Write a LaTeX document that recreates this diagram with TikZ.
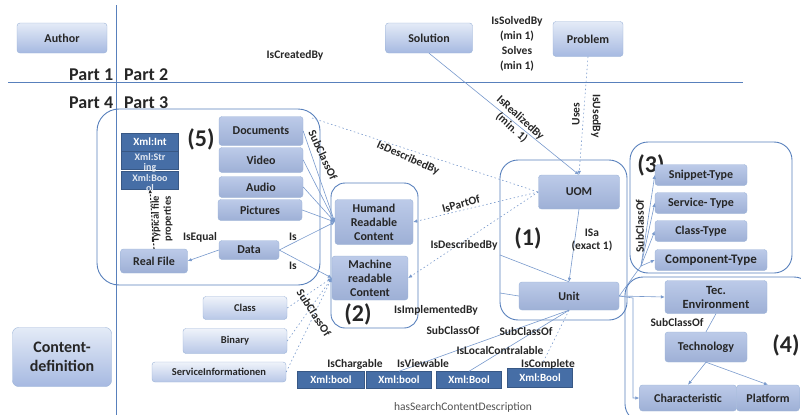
\documentclass[tikz,border=0pt]{standalone}
\usepackage{fontspec}
\setmainfont{Carlito}
\usetikzlibrary{arrows.meta}
\definecolor{edgeblue}{RGB}{120,153,204}
\definecolor{frameblue}{RGB}{88,128,188}
\definecolor{boxtop}{RGB}{228,235,247}
\definecolor{boxbot}{RGB}{166,185,225}
\definecolor{xmlblue}{RGB}{70,110,166}
\definecolor{inktext}{RGB}{38,38,38}

\begin{document}
\begin{tikzpicture}[x=1pt, y=-1pt, >={Latex[length=4pt,width=3.5pt]},
  box/.style={rounded corners=3pt, draw=frameblue!60, top color=boxtop, bottom color=boxbot, align=center, inner sep=1pt, text=inktext, font=\fontsize{12}{13}\selectfont\bfseries},
  darkbox/.style={box, top color=boxbot!75, bottom color=boxbot!95!black},
  lightbox/.style={box, top color=boxtop!60, bottom color=boxbot!80, font=\fontsize{10.5}{11}\selectfont\bfseries},
  xmlbox/.style={draw=xmlblue!80!black, fill=xmlblue, text=white, inner sep=0pt, font=\fontsize{11}{11}\selectfont\bfseries},
  xmltext/.style={font=\fontsize{10}{10}\selectfont\bfseries, text=white!85!xmlblue, align=center, inner sep=0pt},
  frame/.style={draw=frameblue, line width=0.9pt},
  edge/.style={draw=edgeblue, line width=0.6pt},
  dotedge/.style={edge, dash pattern=on 1.5pt off 2.5pt},
  lbl/.style={font=\fontsize{11.5}{12}\selectfont\bfseries, text=inktext, inner sep=0pt, align=center},
  part/.style={font=\fontsize{18}{18}\selectfont\bfseries, text=inktext, inner sep=0pt},
  num/.style={font=\fontsize{24}{24}\selectfont\bfseries, text=inktext, inner sep=0pt}]
\useasboundingbox (0,0) rectangle (801,415);
% axes of the four parts
\draw[frame, line width=1pt] (116,5) -- (116,415);
\draw[frame, line width=1pt] (8,82) -- (743,82);
\node[part, anchor=base west] (p1) at (69,80) {Part 1};
\node[part, anchor=base west] (p2) at (124,80) {Part 2};
\node[part, anchor=base west] (p4) at (69,108) {Part 4};
\node[part, anchor=base west] (p3) at (124,108) {Part 3};
% containers
\draw[frame, rounded corners=22pt] (97,109) rectangle (320,285);
\draw[frame, rounded corners=14pt] (331,183) rectangle (418,328);
\draw[frame, rounded corners=18pt] (500,160) rectangle (627,320);
\draw[frame, rounded corners=18pt] (630,142) rectangle (792,273);
\draw[frame, rounded corners=18pt] (625,277) rectangle (812,422);
\node[num] (n5) at (201,139) {(5)};
\node[num] (n2) at (358,314) {(2)};
\node[num] (n1) at (528,238) {(1)};
\node[num] (n3) at (651,165) {(3)};
\node[num] (n4) at (786,345) {(4)};
% part 1 and 2
\node[box, minimum width=90pt, minimum height=30pt] (author) at (62,38) {Author};
\node[box, minimum width=87pt, minimum height=30pt] (solution) at (429,38) {Solution};
\node[box, minimum width=70pt, minimum height=35pt] (problem) at (588,39) {Problem};
\node[box, minimum width=99pt, minimum height=59pt, rounded corners=6pt, font=\fontsize{16}{19}\selectfont\bfseries] (contentdef) at (62,357) {Content-\\definition};
% part 3: box (5)
\node[darkbox, minimum width=84pt, minimum height=29pt] (docs) at (261,131) {Documents};
\node[darkbox, minimum width=84pt, minimum height=25pt] (video) at (261,160) {Video};
\node[darkbox, minimum width=84pt, minimum height=21pt] (audio) at (261,187) {Audio};
\node[darkbox, minimum width=84pt, minimum height=21pt] (pictures) at (260,210) {Pictures};
\node[darkbox, minimum width=60pt, minimum height=19pt] (data) at (249,250) {Data};
\node[darkbox, minimum width=67pt, minimum height=24pt] (realfile) at (154,261) {Real File};
\node[xmlbox, minimum width=57pt, minimum height=18pt] (xmlint) at (150,142) {Xml:Int};
\node[xmlbox, minimum width=57pt, minimum height=18pt] (xmlstr) at (150,160) {};
\node[xmlbox, minimum width=57pt, minimum height=18pt] (xmlboo) at (150,180) {};
\node[xmltext] (xmlstrt) at (150,163) {Xml:Str\\ing};
\node[xmltext] (xmlboot) at (150,183) {Xml:Boo\\ol};
% box (2)
\node[darkbox, minimum width=78pt, minimum height=45pt, font=\fontsize{12}{14}\selectfont\bfseries] (human) at (374,222) {Humand\\Readable\\Content};
\node[darkbox, minimum width=76pt, minimum height=44pt, font=\fontsize{12}{14}\selectfont\bfseries] (machine) at (370,278) {Machine\\readable\\Content};
% box (1)
\node[darkbox, minimum width=81pt, minimum height=34pt] (uom) at (579,192) {UOM};
\node[darkbox, minimum width=100pt, minimum height=28pt] (unit) at (569,296) {Unit};
% box (3)
\node[darkbox, minimum width=92pt, minimum height=21pt] (snippet) at (701,175) {Snippet-Type};
\node[darkbox, minimum width=92pt, minimum height=21pt] (service) at (701,203) {Service- Type};
\node[darkbox, minimum width=92pt, minimum height=21pt] (classtype) at (701,231) {Class-Type};
\node[darkbox, minimum width=112pt, minimum height=21pt, font=\fontsize{13}{13}\selectfont\bfseries] (component) at (711,260) {Component-Type};
% box (4)
\node[darkbox, minimum width=102pt, minimum height=33pt, font=\fontsize{12.5}{14}\selectfont\bfseries] (tecenv) at (716,297) {Tec.\\Environment};
\node[darkbox, minimum width=82pt, minimum height=30pt] (technology) at (706,347) {Technology};
\node[darkbox, minimum width=97pt, minimum height=26pt] (characteristic) at (688,398) {Characteristic};
\node[darkbox, minimum width=63pt, minimum height=26pt] (platform) at (768,398) {Platform};
% part 3: machine readable kinds
\node[lightbox, minimum width=84pt, minimum height=23pt] (classn) at (245,308) {Class};
\node[lightbox, minimum width=104pt, minimum height=25pt] (binary) at (235,341) {Binary};
\node[lightbox, minimum width=134pt, minimum height=20pt] (servinfo) at (219,372) {ServiceInformationen};
% boolean properties
\node[xmlbox, minimum width=67pt, minimum height=17pt] (xb1) at (331,380) {Xml:bool};
\node[xmlbox, minimum width=65pt, minimum height=17pt] (xb2) at (399,380) {Xml:bool};
\node[xmlbox, minimum width=65pt, minimum height=17pt] (xb3) at (469,380) {Xml:Bool};
\node[xmlbox, minimum width=65pt, minimum height=19pt] (xb4) at (540,378) {Xml:Bool};
% helper points on the frames
\coordinate (f5top) at (312,118);
\coordinate (f1left) at (500,255);
\coordinate (f1low) at (500,293);
\coordinate (fan3) at (641,266);
\coordinate (bend4) at (633,298);
\coordinate (low4) at (633,398);
% connectors
\draw[edge, ->] (docs.east) -- (human.west);
\draw[edge, ->] (video.east) -- (human.west);
\draw[edge, ->] (audio.east) -- (human.west);
\draw[edge, ->] (pictures.east) -- (human.west);
\draw[edge, ->] (data.east) -- (human.west);
\draw[edge, ->] (data.east) -- (machine.west);
\draw[edge, ->] (data.west) -- (realfile.east);
\draw[->, draw=inktext, line width=1.1pt, dash pattern=on 2pt off 1.5pt] (realfile.north) -- (xmlboo.south);
\draw[dotedge, ->] (classn.east) -- (machine.west);
\draw[dotedge, ->] (binary.east) -- (machine.west);
\draw[dotedge, ->] (servinfo.east) -- (machine.west);
\draw[dotedge] (f5top) -- (uom.west);
\draw[dotedge, ->] (uom.west) -- (human.east);
\draw[dotedge, ->] (uom.west) -- (machine.east);
\draw[edge, ->] (solution.south) -- (uom.north);
\draw[dotedge, ->] (problem.south) -- (uom.north);
\draw[edge, ->] (uom.south) -- (unit.north);
\draw[edge] (f1left) -- (unit.north);
\draw[edge] (f1low) -- (unit.west);
\draw[edge, ->] (unit.east) -- (tecenv.west);
\draw[edge] (unit.east) -- (fan3);
\foreach \t in {snippet,service,classtype,component}{ \draw[edge, ->] (fan3) -- (\t.west); }
\draw[edge, ->] (unit.east) -- (bend4) -- (low4) -- (characteristic.west);
\draw[edge] (technology.north) -- (tecenv.south);
\draw[edge, ->] (technology.south) -- (characteristic.north);
\draw[edge, ->] (technology.south) -- (platform.north);
\draw[edge] (unit.south) -- (xb2.north);
\draw[edge] (unit.south) -- (xb3.north);
\draw[dotedge] (unit.south) -- (xb4.north);
% labels
\node[lbl] (lcreated) at (295,55) {IsCreatedBy};
\node[lbl, font=\fontsize{11.5}{15}\selectfont\bfseries] (lsolved) at (517,44) {IsSolvedBy\\(min 1)\\Solves\\(min 1)};
\node[lbl, rotate=-42, font=\fontsize{11.5}{13}\selectfont\bfseries] (lrealized) at (516,123) {IsRealizedBy\\(min. 1)};
\node[lbl, rotate=90] (luses) at (576,114) {Uses};
\node[lbl, rotate=-90] (lused) at (596,116) {IsUsedBy};
\node[lbl, rotate=-65] (lsub5) at (323,155) {SubClassOf};
\node[lbl, rotate=-24] (ldesc1) at (408,158) {IsDescribedBy};
\node[lbl, rotate=15] (lpart) at (461,204) {IsPartOf};
\node[lbl] (ldesc2) at (464,245) {IsDescribedBy};
\node[lbl, font=\fontsize{11.5}{13}\selectfont\bfseries] (lisa) at (592,240) {ISa\\(exact 1)};
\node[lbl] (lis1) at (293,237) {Is};
\node[lbl] (lis2) at (293,266) {Is};
\node[lbl] (lequal) at (200,237) {IsEqual};
\node[lbl, rotate=90, font=\fontsize{10.5}{12}\selectfont\bfseries] (ltypical) at (162,219) {Typical file\\properties};
\node[lbl, rotate=90] (lsub3) at (640,226) {SubClassOf};
\node[lbl] (lsub4) at (677,323) {SubClassOf};
\node[lbl, rotate=-57] (lsub2) at (314,313) {SubClassOf};
\node[lbl] (limpl) at (436,310) {IsImplementedBy};
\node[lbl] (lsubu1) at (453,331) {SubClassOf};
\node[lbl] (lsubu2) at (526,332) {SubClassOf};
\node[lbl] (llocal) at (500,351) {IsLocalContralable};
\node[lbl] (lcharge) at (355,364) {IsChargable};
\node[lbl] (lview) at (423,364) {IsViewable};
\node[lbl] (lcomplete) at (548,364) {IsComplete};
\node[lbl, font=\fontsize{11.5}{12}\selectfont, text=inktext!80] (lsearch) at (463,407) {hasSearchContentDescription};
\end{tikzpicture}
\end{document}
